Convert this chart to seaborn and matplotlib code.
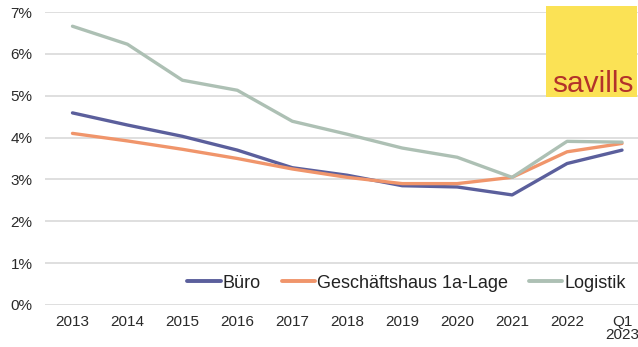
import matplotlib
matplotlib.use("Agg")
import matplotlib.pyplot as plt
from matplotlib.patches import Rectangle
import seaborn as sns
import pandas as pd

years = ["2013", "2014", "2015", "2016", "2017", "2018", "2019", "2020", "2021", "2022", "Q1\n2023"]
buero = [4.59, 4.30, 4.03, 3.70, 3.28, 3.10, 2.85, 2.82, 2.63, 3.38, 3.70]
geschaeft = [4.10, 3.92, 3.72, 3.50, 3.25, 3.05, 2.90, 2.90, 3.05, 3.66, 3.86]
logistik = [6.66, 6.23, 5.37, 5.13, 4.39, 4.08, 3.75, 3.53, 3.05, 3.91, 3.89]
series_names = ["Büro", "Geschäftshaus 1a-Lage", "Logistik"]
colors = ["#5b5f9c", "#f0956b", "#adc0b4"]

rows = []
for name, vals in zip(series_names, [buero, geschaeft, logistik]):
    for i, v in enumerate(vals):
        rows.append({"x": i, "Rendite": v / 100, "Segment": name})
df = pd.DataFrame(rows)

sns.set_theme(style="white")
plt.rcParams['font.family'] = ['Liberation Sans', 'DejaVu Sans']

fig = plt.figure(figsize=(6.38, 3.47), dpi=100)
ax = fig.add_axes([45/638, 1 - 305/347, 593/638, 293/347])

sns.lineplot(data=df, x="x", y="Rendite", hue="Segment", palette=colors,
             hue_order=series_names, linewidth=2.4, ax=ax, sort=False, zorder=3)

ax.set_ylim(0, 0.07)
ax.set_xlim(-0.5, (638 - 72) / 55)
ax.set_yticks([i / 100 for i in range(8)])
ax.set_yticklabels([f"{i}%" for i in range(8)])
ax.set_xticks(range(len(years)))
ax.set_xticklabels(years, linespacing=0.95)
ax.set_xlabel("")
ax.set_ylabel("")
ax.yaxis.grid(True, color="#dcdcdc", linewidth=1.3)
ax.xaxis.grid(False)
for s in ax.spines.values():
    s.set_visible(False)
ax.tick_params(axis="both", length=0, labelsize=11, colors="#2a2a2a")
ax.tick_params(axis="x", pad=7)
ax.tick_params(axis="y", pad=9)

leg = ax.legend(loc="center", bbox_to_anchor=(0.61, 0.075), ncol=3, frameon=False,
                fontsize=13, handlelength=1.85, handletextpad=0.12, columnspacing=1.15,
                labelcolor="#222222")
for line in leg.get_lines():
    line.set_linewidth(2.8)

# savills logo
fig.patches.append(Rectangle((546/638, 1 - 97/347), 91/638, 91/347,
                             transform=fig.transFigure, facecolor="#fbe255",
                             edgecolor="none", zorder=5))
fig.text(634/638, 1 - 92/347, "savills", ha="right", va="baseline",
         fontsize=21.5, color="#b3322a", zorder=6)

fig.savefig("out.png", dpi=100)
